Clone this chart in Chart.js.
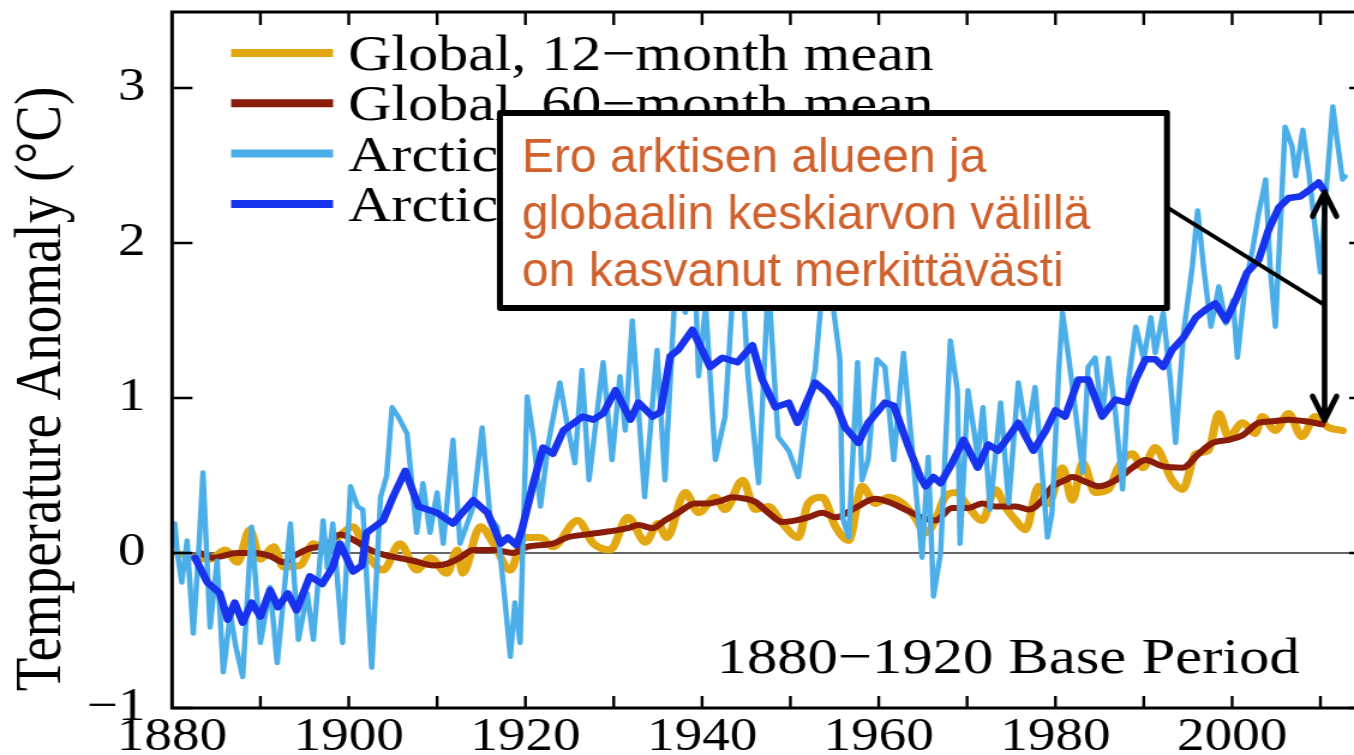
<!DOCTYPE html>
<html>
<head>
<meta charset="utf-8">
<title>Temperature Anomaly</title>
<script src="https://cdn.jsdelivr.net/npm/chart.js@4.4.1/dist/chart.umd.min.js"></script>
<style>
  html, body { margin: 0; padding: 0; background: #fff; overflow: hidden; }
  /* the figure is drawn narrow and widened horizontally */
  #wrap { width: 1128px; height: 755px; transform: scaleX(1.20035); transform-origin: 0 0; }
  canvas { display: block; }
</style>
</head>
<body>
<div id="wrap"><canvas id="c" width="1128" height="755"></canvas></div>
<script>
// horizontal widening factor of the whole figure
const S = 1354 / 1128;

// ---- series -------------------------------------------------------------
const seriesNames = ['Global, 12\u2212month mean', 'Global, 60\u2212month mean',
                     'Arctic, 12\u2212month mean', 'Arctic, 60\u2212month mean'];

const gloYears12 = [1880.5,1882.5,1884.3,1886.0,1887.4,1888.8,1890.0,1891.5,1892.6,1894.5,1896.0,1897.5,1898.8,1900.5,1902.0,1903.9,1905.8,1907.7,1909.2,1911.1,1912.3,1912.9,1914.9,1916.4,1918.3,1919.8,1921.7,1923.1,1925.9,1927.7,1929.6,1931.6,1933.6,1935.0,1936.0,1938.1,1939.6,1941.5,1942.6,1944.6,1946.0,1947.5,1949.1,1950.9,1952.0,1953.6,1955.1,1956.6,1958.1,1959.6,1961.1,1962.7,1964.1,1965.3,1966.4,1967.5,1968.7,1970.1,1971.7,1973.2,1974.3,1975.5,1976.6,1978.1,1979.2,1980.8,1981.9,1983.1,1984.5,1986.0,1987.1,1988.7,1989.9,1991.3,1993.2,1994.4,1995.9,1997.3,1998.5,1999.6,2001.2,2002.6,2003.4,2004.9,2006.4,2007.9,2009.4,2010.9,2012.5];
const gloAnom12  = [0.00,-0.03,-0.04,0.02,-0.06,0.15,-0.04,0.04,-0.09,-0.08,0.06,0.02,0.10,0.17,0.00,-0.11,0.06,-0.11,-0.03,-0.13,0.02,-0.13,0.17,0.06,-0.11,0.10,0.10,0.04,0.21,0.06,0.02,0.23,0.07,0.19,0.10,0.39,0.26,0.36,0.28,0.47,0.28,0.30,0.19,0.10,0.32,0.36,0.17,0.08,0.43,0.32,0.36,0.32,0.23,0.13,0.21,0.36,0.39,0.30,0.21,0.41,0.30,0.21,0.15,0.43,0.32,0.55,0.34,0.58,0.39,0.41,0.55,0.64,0.55,0.68,0.47,0.41,0.64,0.66,0.90,0.75,0.84,0.77,0.88,0.79,0.90,0.75,0.88,0.81,0.79];

const gloYears60 = [1883.2,1884.6,1887.4,1889.2,1891.1,1892.6,1894.1,1895.6,1897.5,1899.0,1901.0,1902.4,1903.9,1905.5,1907.3,1909.6,1911.1,1912.6,1914.1,1916.4,1918.6,1920.2,1923.1,1924.7,1927.0,1929.6,1931.6,1932.8,1934.4,1935.8,1937.3,1939.2,1940.7,1942.3,1943.4,1944.9,1946.0,1947.5,1949.1,1950.6,1952.0,1953.6,1955.1,1957.3,1959.6,1961.5,1963.0,1964.9,1966.4,1968.3,1970.1,1971.7,1973.2,1975.5,1977.0,1978.5,1979.7,1981.1,1981.9,1983.4,1984.9,1986.8,1988.7,1990.2,1992.1,1994.4,1996.2,1997.8,1999.6,2001.2,2003.0,2004.6,2006.4,2008.3,2010.2];
const gloAnom60  = [0.00,-0.03,0.00,0.00,-0.02,-0.06,-0.01,0.03,0.05,0.12,0.07,0.02,-0.01,-0.03,-0.05,-0.08,-0.07,-0.03,0.02,0.02,0.00,0.04,0.06,0.10,0.12,0.14,0.16,0.18,0.16,0.21,0.26,0.32,0.32,0.34,0.36,0.35,0.33,0.26,0.20,0.21,0.23,0.26,0.23,0.29,0.35,0.32,0.28,0.23,0.21,0.29,0.29,0.32,0.30,0.30,0.28,0.34,0.43,0.47,0.49,0.46,0.43,0.47,0.55,0.60,0.56,0.55,0.64,0.71,0.73,0.76,0.84,0.85,0.86,0.85,0.83];

const arcYears12 = [1880.0,1880.3,1880.6,1881.1,1881.7,1882.4,1883.0,1883.5,1884.3,1885.1,1885.8,1886.6,1887.2,1888.0,1889.0,1890.0,1891.1,1891.9,1892.6,1893.4,1894.3,1895.3,1896.0,1897.1,1897.6,1898.2,1899.3,1900.2,1901.0,1901.6,1902.6,1903.6,1904.3,1904.9,1905.6,1906.6,1907.7,1908.4,1909.2,1910.0,1910.7,1911.8,1912.6,1914.1,1915.1,1916.0,1916.8,1917.5,1918.3,1918.8,1919.4,1920.2,1920.9,1921.7,1922.6,1923.9,1924.7,1925.6,1926.4,1927.2,1928.8,1929.8,1930.7,1931.3,1932.1,1933.5,1934.9,1935.8,1937.0,1938.1,1939.2,1939.6,1940.4,1941.5,1942.6,1943.5,1944.6,1945.2,1946.4,1947.5,1948.6,1949.8,1950.9,1951.9,1952.8,1953.6,1954.7,1955.6,1955.9,1956.6,1957.6,1958.1,1958.8,1959.8,1960.7,1961.7,1962.8,1963.8,1964.9,1965.6,1966.2,1967.0,1968.1,1968.9,1969.2,1970.1,1971.2,1971.8,1972.6,1973.8,1974.7,1975.8,1976.8,1977.7,1979.1,1979.6,1980.4,1980.8,1981.5,1982.3,1983.1,1983.7,1984.5,1985.3,1986.0,1986.8,1987.6,1988.3,1989.1,1990.0,1990.8,1991.3,1992.2,1993.0,1993.6,1994.5,1995.5,1996.1,1996.8,1997.6,1998.5,1999.3,2000.1,2000.6,2001.5,2002.3,2003.0,2003.8,2004.3,2004.9,2005.5,2006.0,2006.8,2007.2,2008.0,2008.7,2009.2,2010.0,2010.6,2011.4,2011.9,2012.5,2012.8];
const arcAnom12  = [0.05,0.19,0.00,-0.19,0.08,-0.52,0.00,0.52,-0.48,-0.05,-0.77,-0.39,-0.60,-0.80,0.17,-0.58,-0.22,-0.71,-0.30,0.19,-0.56,-0.26,-0.56,0.21,-0.10,0.19,-0.58,0.43,0.30,0.28,-0.74,0.36,0.50,0.94,0.88,0.77,0.13,0.45,0.13,0.39,0.06,0.73,0.06,0.30,0.81,0.23,0.17,-0.20,-0.67,-0.32,-0.58,1.01,0.75,0.30,0.71,1.10,0.84,0.58,1.18,0.47,1.23,0.60,1.14,0.79,1.50,0.36,1.31,0.47,1.75,1.55,1.80,1.14,1.60,0.60,0.88,1.70,1.75,1.14,0.45,1.75,0.75,0.66,0.49,0.94,1.18,1.70,1.65,1.25,0.23,0.10,1.23,0.47,0.60,1.25,1.20,0.60,1.29,0.66,-0.03,0.62,-0.28,0.00,1.37,1.05,0.06,1.05,0.62,0.94,0.28,0.97,0.32,1.10,0.75,1.07,0.10,0.25,1.20,1.55,1.26,0.90,0.52,1.20,1.26,0.88,1.26,0.90,0.41,1.12,1.46,1.25,1.52,1.29,1.55,1.12,0.71,1.42,1.85,2.21,1.83,1.46,1.72,1.48,1.63,1.26,1.74,1.95,2.19,2.41,1.85,1.46,2.15,2.75,2.62,2.43,2.73,2.45,2.19,1.81,2.30,2.88,2.66,2.41,2.43];

const arcYears60 = [1882.6,1884.0,1885.4,1886.3,1887.1,1888.0,1889.0,1890.0,1891.1,1892.0,1893.1,1894.1,1895.6,1897.0,1898.2,1899.0,1900.5,1901.5,1902.0,1903.9,1905.0,1906.4,1907.9,1910.0,1911.8,1914.1,1915.7,1917.2,1918.0,1919.0,1919.6,1920.9,1922.0,1923.1,1924.3,1926.5,1927.7,1928.8,1930.2,1931.9,1932.8,1934.4,1935.3,1936.4,1937.3,1938.9,1940.0,1940.9,1942.3,1944.0,1945.7,1946.8,1948.3,1949.8,1950.8,1952.8,1954.2,1955.3,1956.2,1957.7,1958.8,1960.7,1961.7,1963.4,1964.7,1965.3,1966.2,1967.0,1968.3,1969.6,1971.2,1972.4,1973.5,1974.7,1975.8,1977.5,1978.9,1980.0,1981.1,1982.6,1983.7,1985.3,1986.8,1988.1,1989.1,1990.2,1991.3,1992.2,1993.2,1994.5,1995.9,1997.0,1998.1,1999.3,2000.4,2001.7,2003.0,2004.1,2005.3,2006.4,2007.7,2008.7,2009.8,2010.4];
const arcAnom60  = [-0.03,-0.19,-0.26,-0.43,-0.32,-0.45,-0.32,-0.41,-0.24,-0.35,-0.26,-0.37,-0.15,-0.20,-0.09,0.06,-0.12,-0.08,0.13,0.21,0.36,0.53,0.30,0.26,0.19,0.34,0.26,0.06,0.10,0.05,0.15,0.45,0.68,0.64,0.79,0.88,0.86,0.90,1.05,0.86,0.97,0.88,0.91,1.27,1.31,1.44,1.31,1.20,1.26,1.23,1.34,1.12,0.94,0.97,0.84,1.10,1.03,0.94,0.81,0.71,0.84,0.97,0.95,0.68,0.49,0.43,0.49,0.45,0.58,0.73,0.55,0.70,0.66,0.75,0.84,0.66,0.79,0.92,0.88,1.12,1.12,0.88,0.99,0.97,1.12,1.25,1.25,1.20,1.31,1.39,1.52,1.57,1.61,1.50,1.63,1.81,1.89,2.08,2.23,2.29,2.30,2.34,2.39,2.34];

// ---- axes and labels ----------------------------------------------------
const xTickYears  = [1880, 1900, 1920, 1940, 1960, 1980, 2000];
const xMinorYears = [1890, 1900, 1910, 1920, 1930, 1940, 1950, 1960, 1970, 1980, 1990, 2000, 2010];
const yTickValues = [-1, 0, 1, 2, 3];
const yTitle = 'Temperature Anomaly (\u00B0C)';
const basePeriodText = '1880\u22121920 Base Period';
const noteLines = ['Ero arktisen alueen ja', 'globaalin keskiarvon v\u00E4lill\u00E4', 'on kasvanut merkitt\u00E4v\u00E4sti'];

const colors = ['#E3A712', '#8A1C0A', '#4BAEE8', '#1833EE'];

function pts(xs, ys) { return xs.map((x, i) => ({ x: x, y: ys[i] })); }

const SERIF = '"Liberation Serif", "Times New Roman", serif';
const SANS = '"Liberation Sans", Arial, sans-serif';

const decor = {
  id: 'decor',
  beforeDatasetsDraw(chart) {
    const { ctx, chartArea: a, scales: { y } } = chart;
    const y0 = y.getPixelForValue(0);
    ctx.save();
    ctx.strokeStyle = '#333';
    ctx.lineWidth = 1.6;
    ctx.beginPath(); ctx.moveTo(a.left, y0); ctx.lineTo(a.right, y0); ctx.stroke();
    ctx.restore();
  },
  afterDatasetsDraw(chart) {
    const { ctx, chartArea: a, scales: { x, y } } = chart;
    ctx.save();
    ctx.strokeStyle = '#000';
    ctx.fillStyle = '#000';

    // frame
    ctx.lineCap = 'butt';
    ctx.lineWidth = 3;
    ctx.beginPath();
    ctx.moveTo(a.right + 2, a.top); ctx.lineTo(a.left, a.top);
    ctx.lineTo(a.left, a.bottom); ctx.lineTo(a.right + 2, a.bottom);
    ctx.stroke();

    // inward tick marks
    ctx.lineWidth = 2.4;
    ctx.beginPath();
    xMinorYears.forEach(v => {
      const px = x.getPixelForValue(v);
      ctx.moveTo(px, a.top); ctx.lineTo(px, a.top + 13);
      ctx.moveTo(px, a.bottom); ctx.lineTo(px, a.bottom - 12);
    });
    ctx.stroke();
    ctx.lineWidth = 2.6;
    ctx.beginPath();
    yTickValues.forEach(v => {
      const py = y.getPixelForValue(v);
      ctx.moveTo(a.left, py); ctx.lineTo(a.left + 17, py);
      ctx.moveTo(a.right - 4, py); ctx.lineTo(a.right + 2, py);
    });
    ctx.stroke();

    // y axis title
    ctx.save();
    ctx.translate(50, 389);
    ctx.rotate(-Math.PI / 2);
    ctx.font = '55px ' + SERIF;
    ctx.textAlign = 'center';
    ctx.textBaseline = 'alphabetic';
    ctx.fillText(yTitle, 0, 0);
    ctx.restore();

    // legend
    const ds = chart.data.datasets;
    ctx.font = '50px ' + SERIF;
    ctx.textAlign = 'left';
    ctx.textBaseline = 'alphabetic';
    for (let i = 0; i < ds.length; i++) {
      const ly = 53 + i * 50.3;
      ctx.strokeStyle = ds[i].borderColor;
      ctx.lineWidth = 8;
      ctx.beginPath(); ctx.moveTo(192.5, ly); ctx.lineTo(277.5, ly); ctx.stroke();
      ctx.fillStyle = '#000';
      ctx.fillText(ds[i].label, 290, ly + 17);
    }

    // base period note
    ctx.font = '50.5px ' + SERIF;
    ctx.fillText(basePeriodText, 597, 673);

    // annotation box, connector and double arrow (drawn at unwidened proportions)
    const la = arcYears60.length - 1, lg = gloYears60.length - 1;
    const ax = x.getPixelForValue(arcYears60[la]) * S + 0.5 * S;
    const topY = y.getPixelForValue(arcAnom60[la]) + 2;
    const botY = y.getPixelForValue(gloAnom60[lg]) - 4;
    ctx.save();
    ctx.scale(1 / S, 1);
    ctx.fillStyle = '#fff';
    ctx.fillRect(500, 113, 667, 195);
    ctx.strokeStyle = '#000';
    ctx.lineWidth = 6;
    ctx.lineJoin = 'round';
    ctx.strokeRect(500, 113, 667, 195);
    ctx.fillStyle = '#D0602C';
    ctx.font = '48px ' + SANS;
    ctx.fillText(noteLines[0], 522, 172);
    ctx.fillText(noteLines[1], 522, 229);
    ctx.fillText(noteLines[2], 522, 286);

    ctx.strokeStyle = '#000';
    ctx.lineWidth = 4;
    ctx.beginPath(); ctx.moveTo(1168, 208); ctx.lineTo(ax, 305); ctx.stroke();
    ctx.lineWidth = 5.5;
    ctx.lineCap = 'round';
    ctx.lineJoin = 'round';
    ctx.beginPath();
    ctx.moveTo(ax, topY); ctx.lineTo(ax, botY);
    ctx.moveTo(ax - 12, topY + 24); ctx.lineTo(ax, topY); ctx.lineTo(ax + 12, topY + 24);
    ctx.moveTo(ax - 12, botY - 24); ctx.lineTo(ax, botY); ctx.lineTo(ax + 12, botY - 24);
    ctx.stroke();
    ctx.restore();

    ctx.restore();
  }
};

new Chart(document.getElementById('c'), {
  type: 'line',
  data: {
    datasets: [
      { label: seriesNames[0], data: pts(gloYears12, gloAnom12), borderColor: colors[0], borderWidth: 7, order: 3, cubicInterpolationMode: 'monotone' },
      { label: seriesNames[1], data: pts(gloYears60, gloAnom60), borderColor: colors[1], borderWidth: 6, order: 2, cubicInterpolationMode: 'monotone' },
      { label: seriesNames[2], data: pts(arcYears12, arcAnom12), borderColor: colors[2], borderWidth: 4.5, order: 1, tension: 0 },
      { label: seriesNames[3], data: pts(arcYears60, arcAnom60), borderColor: colors[3], borderWidth: 6.5, order: 0, tension: 0 }
    ]
  },
  options: {
    responsive: false,
    animation: false,
    events: [],
    layout: { padding: { left: 0, right: 0, top: 12, bottom: 0 } },
    elements: {
      point: { radius: 0 },
      line: { fill: false, borderCapStyle: 'round', borderJoinStyle: 'round' }
    },
    plugins: { legend: { display: false }, tooltip: { enabled: false } },
    scales: {
      x: {
        type: 'linear', position: 'bottom', min: 1880, max: 2013.8,
        grid: { display: false }, border: { display: false },
        afterBuildTicks: s => { s.ticks = xTickYears.map(v => ({ value: v })); },
        afterFit: s => { s.height = 47; s.paddingLeft = 0; s.paddingRight = 0; },
        ticks: { color: '#000', padding: -6, maxRotation: 0, autoSkip: false,
                 font: { family: SERIF, size: 46 }, callback: v => String(v) }
      },
      y: {
        type: 'linear', position: 'left', min: -1, max: 3.49,
        grid: { display: false }, border: { display: false },
        afterBuildTicks: s => { s.ticks = yTickValues.map(v => ({ value: v })); },
        afterFit: s => { s.width = 143.33; s.paddingTop = 0; s.paddingBottom = 0; },
        ticks: { color: '#000', padding: 14,
                 font: { family: SERIF, size: 46 },
                 callback: v => (v < 0 ? '\u2212' + Math.abs(v) : String(v)) }
      }
    }
  },
  plugins: [decor]
});
</script>
</body>
</html>
